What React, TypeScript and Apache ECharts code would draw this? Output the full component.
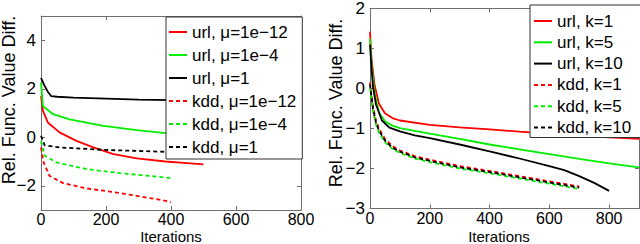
import React, { useEffect, useRef } from "react";
import * as echarts from "echarts";

// ---------- tick labels ----------
const leftXTicks = [0, 200, 400, 600, 800];
const leftYTicks = [-2, 0, 2, 4];
const rightXTicks = [0, 200, 400, 600, 800];
const rightYTicks = [-3, -2, -1, 0, 1, 2];

// ---------- left panel (mu) ----------
const urlMu12X = [0, 6, 21, 57, 109, 161, 223, 295, 383, 450, 500];
const urlMu12Y = [1.7, 1.09, 0.61, 0.2, -0.15, -0.42, -0.7, -0.87, -1.0, -1.07, -1.12];
const urlMu4X = [0, 6, 37, 88, 192, 295, 383, 450, 500];
const urlMu4Y = [2.25, 1.29, 0.95, 0.74, 0.47, 0.29, 0.17, 0.1, 0.05];
const urlMu1X = [0, 10, 20, 31, 50, 100, 200, 300, 400, 500];
const urlMu1Y = [2.45, 2.15, 1.9, 1.7, 1.67, 1.63, 1.59, 1.55, 1.53, 1.51];
const kddMu12X = [0, 8, 26, 68, 140, 243, 383, 400];
const kddMu12Y = [-0.42, -1.04, -1.59, -1.89, -2.11, -2.3, -2.62, -2.68];
const kddMu4X = [0, 11, 47, 140, 243, 383, 400];
const kddMu4Y = [-0.15, -0.76, -1.04, -1.31, -1.48, -1.66, -1.69];
const kddMu1X = [0, 11, 57, 192, 383, 400];
const kddMu1Y = [0.06, -0.33, -0.42, -0.52, -0.6, -0.61];

// ---------- right panel (k) ----------
const urlK1X = [0, 5, 15, 30, 50, 75, 100, 200, 300, 400, 500, 600, 700, 800, 900];
const urlK1Y = [1.42, 0.75, 0.1, -0.38, -0.62, -0.74, -0.8, -0.91, -0.97, -1.02, -1.08, -1.13, -1.18, -1.22, -1.26];
const urlK5X = [0, 5, 15, 30, 50, 75, 100, 200, 300, 400, 500, 600, 700, 800, 900];
const urlK5Y = [1.25, 0.6, -0.1, -0.6, -0.82, -0.93, -0.99, -1.13, -1.26, -1.4, -1.52, -1.64, -1.76, -1.87, -1.97];
const urlK10X = [0, 5, 10, 20, 40, 65, 100, 150, 200, 300, 400, 500, 600, 650, 700, 750, 800];
const urlK10Y = [1.1, 0.5, 0.05, -0.4, -0.8, -0.98, -1.07, -1.17, -1.24, -1.4, -1.57, -1.75, -1.94, -2.04, -2.19, -2.36, -2.56];
const kddK1X = [0, 5, 10, 20, 30, 50, 75, 100, 150, 200, 300, 400, 500, 600, 700];
const kddK1Y = [0.15, -0.15, -0.45, -0.8, -1.0, -1.26, -1.44, -1.55, -1.69, -1.78, -1.94, -2.06, -2.19, -2.32, -2.45];
const kddK5X = [0, 5, 10, 20, 30, 50, 75, 100, 150, 200, 300, 400, 500, 600, 700];
const kddK5Y = [0.0, -0.28, -0.56, -0.9, -1.1, -1.34, -1.51, -1.61, -1.75, -1.84, -2.0, -2.12, -2.25, -2.38, -2.51];
const kddK10X = [0, 5, 10, 20, 30, 50, 75, 100, 150, 200, 300, 400, 500, 600, 700];
const kddK10Y = [0.1, -0.2, -0.5, -0.85, -1.05, -1.3, -1.48, -1.58, -1.72, -1.81, -1.97, -2.09, -2.22, -2.35, -2.48];

const leftNames = ["url, μ=1e−12", "url, μ=1e−4", "url, μ=1", "kdd, μ=1e−12", "kdd, μ=1e−4", "kdd, μ=1"];
const rightNames = ["url, k=1", "url, k=5", "url, k=10", "kdd, k=1", "kdd, k=5", "kdd, k=10"];

const FONT = "'Liberation Sans', Arial, Helvetica, sans-serif";
const RED = "#ff0000";
const GREEN = "#00ee00";
const BLACK = "#000000";
const FRAME = "#6e6e6e";
const DASH = [4, 3];
const SOLID_ICON = "path://M0,0h18v2h-18z";
const DASH_ICON = "path://M0,0h4v2h-4z M7,0h4v2h-4z M14,0h4v2h-4z";

const pairs = (xs: number[], ys: number[]) => xs.map((x, i) => [x, ys[i]]);
const fmt = (v: number) => String(v).replace("-", "\u2212");

function mkSeries(name: string, xs: number[], ys: number[], color: string, dashed: boolean, axis: number) {
  return {
    type: "line",
    name,
    xAxisIndex: axis,
    yAxisIndex: axis,
    data: pairs(xs, ys),
    symbol: "none",
    showSymbol: false,
    smooth: false,
    clip: true,
    itemStyle: { color },
    lineStyle: { color, width: 1.8, type: dashed ? DASH : "solid" },
    emphasis: { disabled: true },
  };
}

function mainAxis(gridIndex: number, position: string, min: number, max: number, ticks: number[], isX: boolean) {
  return {
    type: "value",
    gridIndex,
    position,
    min,
    max,
    axisLine: { show: true, onZero: false, lineStyle: { color: FRAME, width: 1 } },
    axisTick: { show: true, inside: true, length: 4, customValues: ticks, lineStyle: { color: FRAME } },
    axisLabel: {
      show: true,
      customValues: ticks,
      color: "#000",
      fontSize: isX ? 16 : 17,
      lineHeight: 15,
      fontFamily: FONT,
      margin: isX ? 2 : 5,
      formatter: (v: number) => fmt(v),
    },
    splitLine: { show: false },
  };
}

function mirrorAxis(gridIndex: number, position: string, min: number, max: number, ticks: number[]) {
  return {
    type: "value",
    gridIndex,
    position,
    min,
    max,
    axisLine: { show: true, onZero: false, lineStyle: { color: FRAME, width: 1 } },
    axisTick: { show: true, inside: true, length: 4, customValues: ticks, lineStyle: { color: FRAME } },
    axisLabel: { show: false },
    splitLine: { show: false },
  };
}

function legend(left: number, top: number, names: string[], gap: number, padding: number[]) {
  return {
    orient: "vertical",
    left,
    top,
    data: names.map((n) => ({ name: n, icon: n.startsWith("kdd") ? DASH_ICON : SOLID_ICON })),
    itemWidth: 18,
    itemHeight: 2,
    itemGap: gap,
    padding,
    selectedMode: false,
    backgroundColor: "#ffffff",
    borderColor: "#333333",
    borderWidth: 1,
    borderRadius: 0,
    z: 10,
    textStyle: { fontSize: 17, lineHeight: 18, color: "#000", fontFamily: FONT },
  };
}

const axisTitle = { fontSize: 15, lineHeight: 15, fontFamily: FONT, fill: "#000", align: "center", verticalAlign: "middle" };

export default function App() {
  const ref = useRef<HTMLDivElement>(null);
  useEffect(() => {
    if (!ref.current) return;
    const chart = echarts.init(ref.current, undefined, { renderer: "svg" });
    const option = {
      animation: false,
      backgroundColor: "#ffffff",
      textStyle: { fontFamily: FONT },
      grid: [
        { left: 41, top: 16, width: 260, height: 194, containLabel: false },
        { left: 370, top: 5, width: 269, height: 203.5, containLabel: false },
      ],
      xAxis: [
        mainAxis(0, "bottom", 0, 800, leftXTicks, true),
        mirrorAxis(0, "top", 0, 800, leftXTicks),
        mainAxis(1, "bottom", 0, 900, rightXTicks, true),
        mirrorAxis(1, "top", 0, 900, rightXTicks),
      ],
      yAxis: [
        mainAxis(0, "left", -3, 5, leftYTicks, false),
        mirrorAxis(0, "right", -3, 5, leftYTicks),
        mainAxis(1, "left", -3, 2, rightYTicks, false),
        mirrorAxis(1, "right", -3, 2, rightYTicks),
      ],
      legend: [
        legend(166, 17, leftNames, 5, [6, 6, 3, 3]),
        legend(530, 5, rightNames, 3.3, [7, 14, 1, 4]),
      ],
      series: [
        mkSeries(leftNames[0], urlMu12X, urlMu12Y, RED, false, 0),
        mkSeries(leftNames[1], urlMu4X, urlMu4Y, GREEN, false, 0),
        mkSeries(leftNames[2], urlMu1X, urlMu1Y, BLACK, false, 0),
        mkSeries(leftNames[3], kddMu12X, kddMu12Y, RED, true, 0),
        mkSeries(leftNames[4], kddMu4X, kddMu4Y, GREEN, true, 0),
        mkSeries(leftNames[5], kddMu1X, kddMu1Y, BLACK, true, 0),
        mkSeries(rightNames[0], urlK1X, urlK1Y, RED, false, 2),
        mkSeries(rightNames[1], urlK5X, urlK5Y, GREEN, false, 2),
        mkSeries(rightNames[2], urlK10X, urlK10Y, BLACK, false, 2),
        mkSeries(rightNames[3], kddK1X, kddK1Y, RED, true, 2),
        mkSeries(rightNames[4], kddK5X, kddK5Y, GREEN, true, 2),
        mkSeries(rightNames[5], kddK10X, kddK10Y, BLACK, true, 2),
      ],
      graphic: [
        { type: "text", x: 171, y: 236, style: { ...axisTitle, text: "Iterations" } },
        { type: "text", x: 499, y: 236, style: { ...axisTitle, text: "Iterations" } },
        {
          type: "text",
          x: 9,
          y: 100,
          rotation: Math.PI / 2,
          style: { ...axisTitle, fontSize: 18, lineHeight: 18, text: "Rel. Func. Value Diff." },
        },
        {
          type: "text",
          x: 335.5,
          y: 103,
          rotation: Math.PI / 2,
          style: { ...axisTitle, fontSize: 18, lineHeight: 18, text: "Rel. Func. Value Diff." },
        },
      ],
    };
    chart.setOption(option as any);
    return () => chart.dispose();
  }, []);
  return <div ref={ref} style={{ position: "fixed", left: 0, top: 0, width: 640, height: 244 }} />;
}
